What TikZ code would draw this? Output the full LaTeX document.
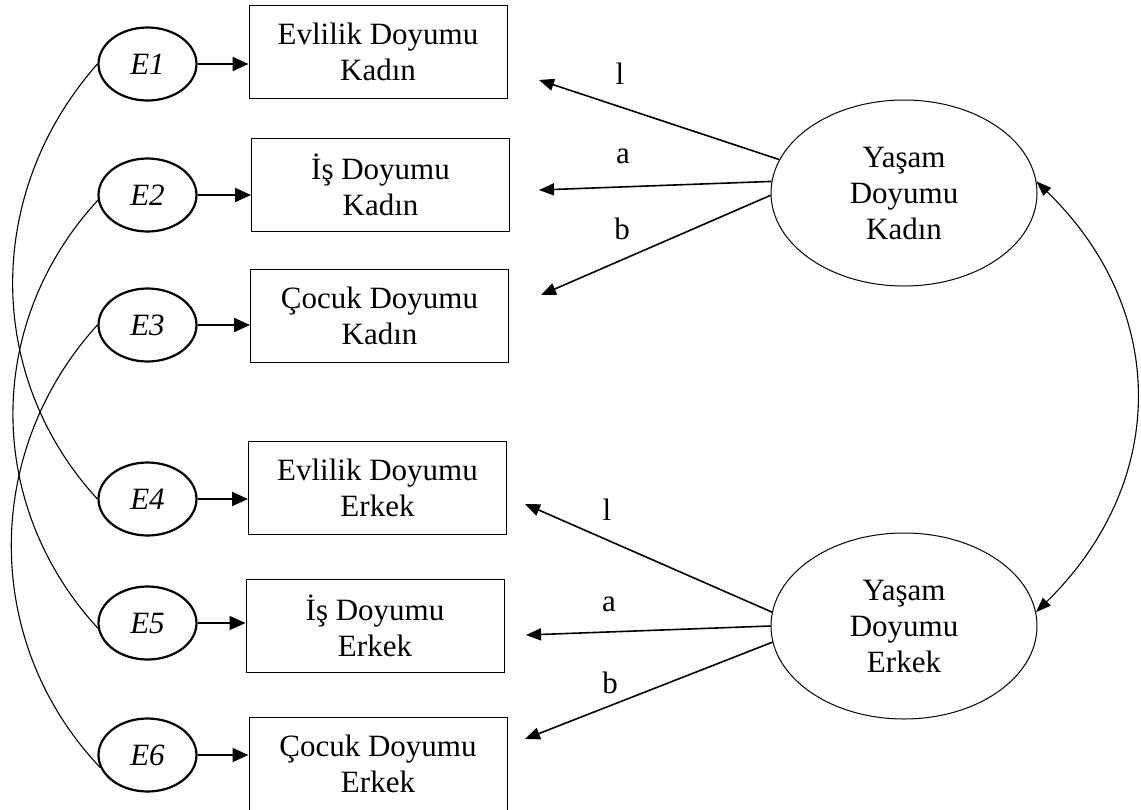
\documentclass[tikz,border=0pt]{standalone}
\usepackage{fontspec}
\setmainfont{Liberation Serif}
\usetikzlibrary{shapes.geometric,arrows.meta}
\begin{document}
\begin{tikzpicture}[x=1pt,y=-1pt,
  font=\fontsize{31}{36}\selectfont,
  measure/.style={draw=black,line width=1pt,minimum width=258pt,minimum height=93pt,inner sep=0pt,align=center},
  errterm/.style={ellipse,draw=black,line width=2.2pt,minimum width=98pt,minimum height=73pt,inner sep=0pt,font=\fontsize{31}{36}\selectfont\itshape},
  latent/.style={ellipse,draw=black,line width=1pt,minimum width=266pt,minimum height=186pt,inner sep=0pt,align=center},
  loading/.style={-{Triangle[length=15pt,width=12pt]},line width=1.6pt},
  errpath/.style={-{Triangle[length=16pt,width=14pt]},line width=2pt},
  cov/.style={line width=1.1pt},
  wt/.style={inner sep=0pt}
]
\path[use as bounding box] (0,0) rectangle (1141,809);
\clip (0,0) rectangle (1141,809);

% observed variables
\node[measure] (B1) at (378,52)    {Evlilik Doyumu\\Kadın};
\node[measure] (B2) at (380.5,184.5) {İş Doyumu\\Kadın};
\node[measure] (B3) at (379.5,315.5) {Çocuk Doyumu\\Kadın};
\node[measure] (B4) at (377.5,487.5) {Evlilik Doyumu\\Erkek};
\node[measure] (B5) at (375,625.5)   {İş Doyumu\\Erkek};
\node[measure] (B6) at (378,763.5)   {Çocuk Doyumu\\Erkek};

% error terms
\node[errterm] (E1) at (147.5,64)  {E1};
\node[errterm] (E2) at (147.5,195) {E2};
\node[errterm] (E3) at (147.5,325) {E3};
\node[errterm] (E4) at (147.5,499) {E4};
\node[errterm] (E5) at (147.5,623) {E5};
\node[errterm] (E6) at (147.5,755) {E6};

% latent variables
\node[latent] (YK) at (904,193) {Yaşam\\Doyumu\\Kadın};
\node[latent] (YE) at (904,626) {Yaşam\\Doyumu\\Erkek};

% error paths
\foreach \i in {1,...,6}
  \draw[errpath] (E\i.east) -- (E\i.east -| B\i.west);

% loading arrow tips
\coordinate (t1) at (539,80);
\coordinate (t2) at (539,190);
\coordinate (t3) at (541,295);
\coordinate (t4) at (525,504);
\coordinate (t5) at (526,635);
\coordinate (t6) at (525,739);

\draw[loading] (YK.165) -- (t1);
\draw[loading] (YK.175) -- (t2);
\draw[loading] (YK.181) -- (t3);
\draw[loading] (YE.174) -- (t4);
\draw[loading] (YE.180) -- (t5);
\draw[loading] (YE.187) -- (t6);

% loading labels
\node[wt] (l1) at (620,74)  {l};
\node[wt] (l2) at (623,156) {a};
\node[wt] (l3) at (622,229) {b};
\node[wt] (l4) at (607,510) {l};
\node[wt] (l5) at (609,604) {a};
\node[wt] (l6) at (610,683) {b};

% covariance between latent variables
\draw[cov,{Triangle[length=15pt,width=11pt]}-{Triangle[length=15pt,width=11pt]}]
  (YK.5) .. controls (1169,310) and (1169,482) .. (YE.6);

% error covariances
\draw[cov] (E1.west) .. controls (-15.6,192) and (-15.6,376) .. (E4.west);
\draw[cov] (E2.186) .. controls (-15.4,323) and (-15.4,505) .. (E5.186);
\draw[cov] (E3.west) .. controls (-17.9,452) and (-17.9,643) .. (E6.195);
\end{tikzpicture}
\end{document}
